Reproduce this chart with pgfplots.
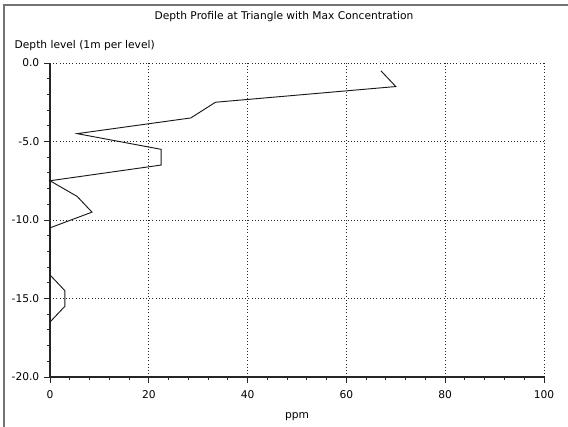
\documentclass[border=0pt]{standalone}
\usepackage{pgfplots}
\pgfplotsset{compat=1.18}
\usepackage{fontspec}
\setmainfont{DejaVu Sans}

\pgfplotstableread{
depth ppm
-0.5  67.0
-1.5  70.0
-2.5  33.5
-3.5  28.5
-4.5  5.5
-5.5  22.5
-6.5  22.5
-7.5  0.0
-8.5  5.5
-9.5  8.5
-10.5 0.0
-11.5 0.0
-12.5 0.0
-13.5 0.0
-14.5 3.0
-15.5 3.0
-16.5 0.0
}\profile

\begin{document}
\begin{tikzpicture}[font=\fontsize{8}{9.6}\selectfont]
\begin{axis}[
  name=main,
  scale only axis,
  width=370.5pt, height=235.5pt,
  xmin=0, xmax=100, ymin=-20, ymax=0,
  axis x line=bottom, axis y line=left,
  axis line style={-, line width=0.8pt, black!85},
  xtick={0,20,...,100}, ytick={-20,-15,...,0},
  minor x tick num=4, minor y tick num=4,
  tick align=outside,
  major tick length=4.5pt, minor tick length=2.3pt,
  tick style={black!85, line width=0.7pt},
  grid=major,
  major grid style={dotted, black!85, line width=0.5pt},
  /pgf/number format/assume math mode=true,
  yticklabel style={/pgf/number format/.cd, fixed, fixed zerofill, precision=1},
  xticklabel style={/pgf/number format/fixed, yshift=-2pt},
  tick label style={font=\fontsize{8}{9.6}\selectfont},
  clip=false,
]
\addplot[black!90, line width=0.7pt] table[x=ppm, y=depth] {\profile};
\end{axis}
% chart frame (top and left edges of the window)
\path[use as bounding box] ([xshift=-37.5pt,yshift=-37.5pt]main.south west) rectangle ([xshift=18pt,yshift=47.25pt]main.north east);
\draw[black!55, line width=1.2pt] ([xshift=-34.5pt,yshift=-37.5pt]main.south west) -- ([xshift=-34.5pt,yshift=43.5pt]main.north west) -- ([xshift=18pt,yshift=43.5pt]main.north east);
\node at ([xshift=-9.75pt,yshift=34.5pt]main.north) {Depth Profile at Triangle with Max Concentration};
\node[anchor=west] at ([xshift=-30pt,yshift=12.75pt]main.north west) {Depth level (1m per level)};
\node at ([yshift=-30pt]main.south) {ppm};
\end{tikzpicture}
\end{document}
